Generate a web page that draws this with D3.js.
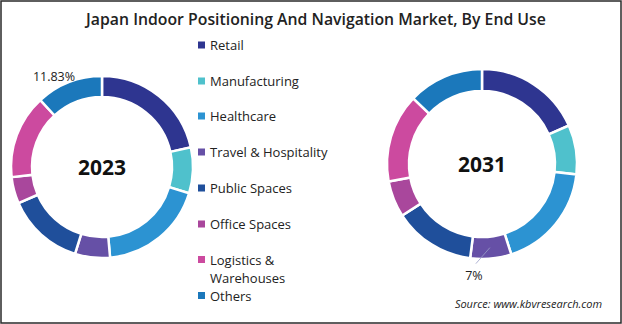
<!DOCTYPE html>
<html><head><meta charset="utf-8">
<script src="https://cdn.jsdelivr.net/npm/d3@7"></script>
<style>body{margin:0;background:#fff}svg{display:block}</style>
</head><body>
<svg id="c" width="622" height="324"></svg>
<script>
const categories = ["Retail","Manufacturing","Healthcare","Travel & Hospitality","Public Spaces","Office Spaces","Logistics & Warehouses","Others"];
const values2023 = [21.5, 8.1, 18.9, 6.2, 13.7, 4.7, 14.9, 11.83];
const values2031 = [18.4, 8.4, 18.3, 7.0, 13.9, 6.2, 15.1, 12.9];
const years = ["2023", "2031"];
const colors = ["#2e3590","#4fc1cc","#2c93d2","#6650a6","#1f4f9b","#a9479c","#cc4a9f","#1b78bb"];

const svg = d3.select("#c");
svg.append("rect").attr("x",1).attr("y",1).attr("width",620).attr("height",322)
  .attr("fill","#fff").attr("stroke","#2a2a2a").attr("stroke-width",1.5);

svg.append("text").attr("x",316).attr("y",24.5).attr("text-anchor","middle")
  .attr("font-family","Open Sans").attr("font-weight",600).attr("font-size",15.8)
  .attr("fill","#222").text("Japan Indoor Positioning And Navigation Market, By End Use");

const color = d3.scaleOrdinal().domain(categories).range(colors);
const pie = d3.pie().sort(null).value(d=>d.v);

function donut(vals, cx, cy, r0, r1, year) {
  const g = svg.append("g").attr("transform",`translate(${cx},${cy})`);
  const arcs = pie(categories.map((c,i)=>({c, v: vals[i]})));
  const arc = d3.arc().innerRadius(r0).outerRadius(r1);
  g.selectAll("path").data(arcs).join("path")
    .attr("d", arc).attr("fill", d=>color(d.data.c))
    .attr("stroke","#fff").attr("stroke-width",2.5);
  g.append("text").attr("x",0).attr("y",8).attr("text-anchor","middle")
    .attr("font-family","Open Sans").attr("font-weight",700).attr("font-size",21)
    .attr("fill","#111").text(year);
  return {g, arcs, arc};
}

const d1 = donut(values2023, 102, 167, 70, 91, years[0]);
svg.append("text").attr("x",54).attr("y",81).attr("text-anchor","middle")
  .attr("font-family","Open Sans").attr("font-size",12.5).attr("fill","#222")
  .text(values2023[7].toFixed(2) + "%");

const d2 = donut(values2031, 482, 164, 73, 95, years[1]);
{
  const a = d2.arcs[3];
  const mid = (a.startAngle + a.endAngle)/2;
  const p1 = [Math.sin(mid)*84, -Math.cos(mid)*84];
  d2.g.append("line").attr("x1",p1[0]).attr("y1",p1[1]).attr("x2",p1[0]-14).attr("y2",p1[1]+16)
    .attr("stroke","#9aa0c8").attr("stroke-width",0.8);
  d2.g.append("text").attr("x",p1[0]-16).attr("y",p1[1]+32).attr("text-anchor","middle")
    .attr("font-family","Open Sans").attr("font-size",12.5).attr("fill","#222")
    .text(Math.round(values2031[3]) + "%");
}

const legY = [45.5, 81.5, 116.5, 152.5, 188.5, 224.5, 260, 296];
const lg = svg.append("g");
categories.forEach((c,i)=>{
  const y = legY[i];
  lg.append("rect").attr("x",198).attr("y",y-4).attr("width",7).attr("height",7).attr("fill",color(c));
  const t = lg.append("text").attr("x",210).attr("y",y+4.5)
    .attr("font-family","Open Sans").attr("font-size",13).attr("fill","#222");
  if (c === "Logistics & Warehouses") {
    t.append("tspan").attr("x",210).text("Logistics &");
    t.append("tspan").attr("x",210).attr("dy",18).text("Warehouses");
  } else t.text(c);
});

svg.append("text").attr("x",602).attr("y",308).attr("text-anchor","end")
  .attr("font-family","Open Sans").attr("font-style","italic").attr("font-size",11)
  .attr("fill","#222").text("Source: www.kbvresearch.com");
</script>
</body></html>
